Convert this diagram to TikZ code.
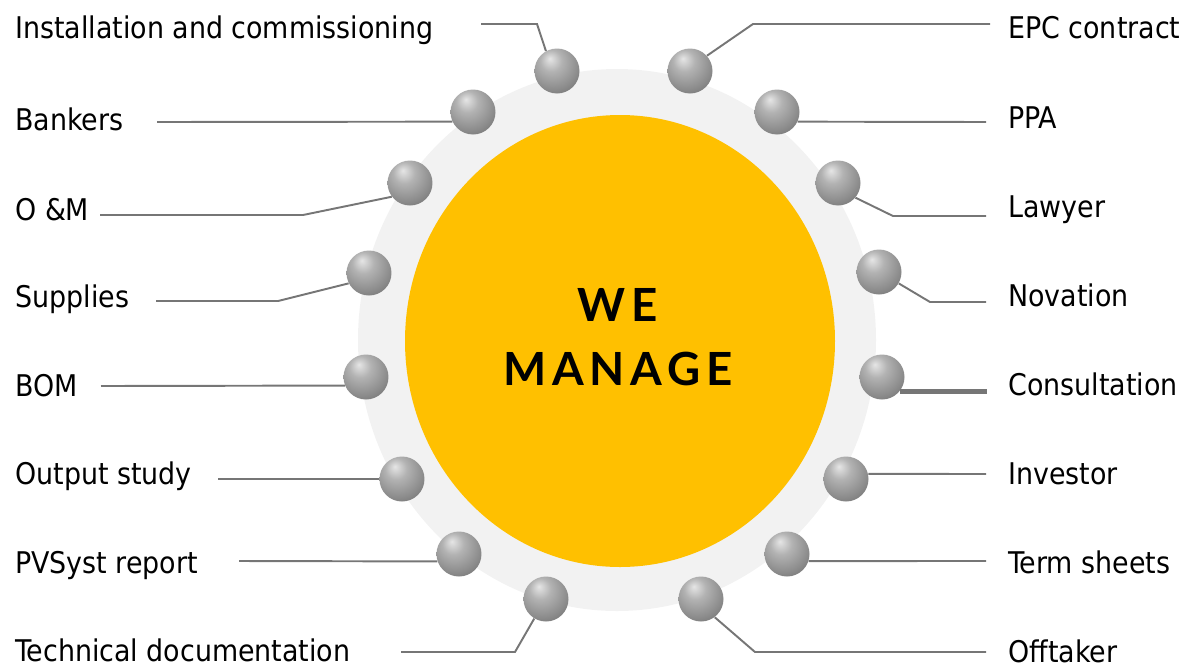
\documentclass[tikz,border=0pt]{standalone}
\usepackage{fontspec}
\setmainfont{DejaVu Sans Condensed}
\newfontfamily\wefont[LetterSpace=13]{Lato}
\definecolor{sunorange}{HTML}{FFC000}
\definecolor{ringgray}{HTML}{F2F2F2}
\definecolor{linegray}{HTML}{767676}
\pgfdeclareradialshading{sphere}{\pgfqpoint{-8bp}{14bp}}{color(0bp)=(gray!20!white);
  color(12bp)=(gray!60!white); color(28bp)=(gray!90!white);
  color(45bp)=(gray!75!black); color(66bp)=(gray!50!black)}
\begin{document}
\begin{tikzpicture}[x=0.02cm,y=-0.02cm]
\tikzstyle{ball}=[circle,minimum size=0.9cm,inner sep=0pt,shading=sphere]
\tikzstyle{lab}=[anchor=base west,inner sep=0pt,font=\fontsize{17}{20}\selectfont]
\tikzstyle{conn}=[draw=linegray,line width=1.1pt]
\useasboundingbox (0,0) rectangle (1194,667);

\fill[ringgray] (617,340) ellipse [x radius=259,y radius=271];
\fill[sunorange] (620,341) ellipse [x radius=215,y radius=226];
\node[font=\wefont\bfseries\fontsize{26}{30}\selectfont] at (618,305) (we) {WE};
\node[font=\wefont\bfseries\fontsize{26}{30}\selectfont] at (618,369) (manage) {MANAGE};

\node[ball] at (557,71) (b1) {};
\node[ball] at (473,112) (b2) {};
\node[ball] at (410,183) (b3) {};
\node[ball] at (369,273) (b4) {};
\node[ball] at (366,377) (b5) {};
\node[ball] at (402,479) (b6) {};
\node[ball] at (459,554) (b7) {};
\node[ball] at (546,599) (b8) {};
\node[ball] at (690,71) (b9) {};
\node[ball] at (777,112) (b10) {};
\node[ball] at (838,183) (b11) {};
\node[ball] at (879,272) (b12) {};
\node[ball] at (882,377) (b13) {};
\node[ball] at (846,479) (b14) {};
\node[ball] at (787,554) (b15) {};
\node[ball] at (701,599) (b16) {};

\node[lab] at (15,38) (l1) {Installation and commissioning};
\node[lab] at (15,130) (l2) {Bankers};
\node[lab] at (15,220) (l3) {O \&M};
\node[lab] at (15,307) (l4) {Supplies};
\node[lab] at (15,396) (l5) {BOM};
\node[lab] at (15,484) (l6) {Output study};
\node[lab] at (15,573) (l7) {PVSyst report};
\node[lab] at (15,661) (l8) {Technical documentation};
\node[lab] at (1008,38) (l9) {EPC contract};
\node[lab] at (1008,128) (l10) {PPA};
\node[lab] at (1008,217) (l11) {Lawyer};
\node[lab] at (1008,306) (l12) {Novation};
\node[lab] at (1008,395) (l13) {Consultation};
\node[lab] at (1008,484) (l14) {Investor};
\node[lab] at (1008,573) (l15) {Term sheets};
\node[lab] at (1008,662) (l16) {Offtaker};

\coordinate (k1) at (537,24);
\coordinate (e1) at (481,24);
\coordinate (e2) at (157,122);
\coordinate (k3) at (303,215);
\coordinate (e3) at (100,215);
\coordinate (k4) at (278,301);
\coordinate (e4) at (156,301);
\coordinate (e5) at (101,386);
\coordinate (e6) at (218,479);
\coordinate (e7) at (239,561);
\coordinate (k8) at (515,652);
\coordinate (e8) at (401,652);
\coordinate (k9) at (753,24);
\coordinate (e9) at (990,24);
\coordinate (e10) at (986,122);
\coordinate (k11) at (893,216);
\coordinate (e11) at (986,216);
\coordinate (k12) at (930,302);
\coordinate (e12) at (986,302);
\coordinate (e13) at (987,392);
\coordinate (e14) at (986,474);
\coordinate (e15) at (986,561);
\coordinate (k16) at (755,652);
\coordinate (e16) at (986,652);

\draw[conn] (b1.119) -- (k1) -- (e1);
\draw[conn] (b2.205) -- (e2);
\draw[conn] (b3.217) -- (k3) -- (e3);
\draw[conn] (b4.207) -- (k4) -- (e4);
\draw[conn] (b5.202) -- (e5);
\draw[conn] (b6) -- (e6);
\draw[conn] (b7.199) -- (e7);
\draw[conn] (b8.239) -- (k8) -- (e8);
\draw[conn] (b9.42) -- (k9) -- (e9);
\draw[conn] (b10.-25) -- (e10);
\draw[conn] (b11.-40) -- (k11) -- (e11);
\draw[conn] (b12.-30) -- (k12) -- (e12);
\draw[conn,line width=2.8pt] (b13.-40) -- (b13.-40 -| e13);
\draw[conn] (b14.13) -- (e14);
\draw[conn] (b15.-18) -- (e15);
\draw[conn] (b16.-53) -- (k16) -- (e16);
\end{tikzpicture}
\end{document}
